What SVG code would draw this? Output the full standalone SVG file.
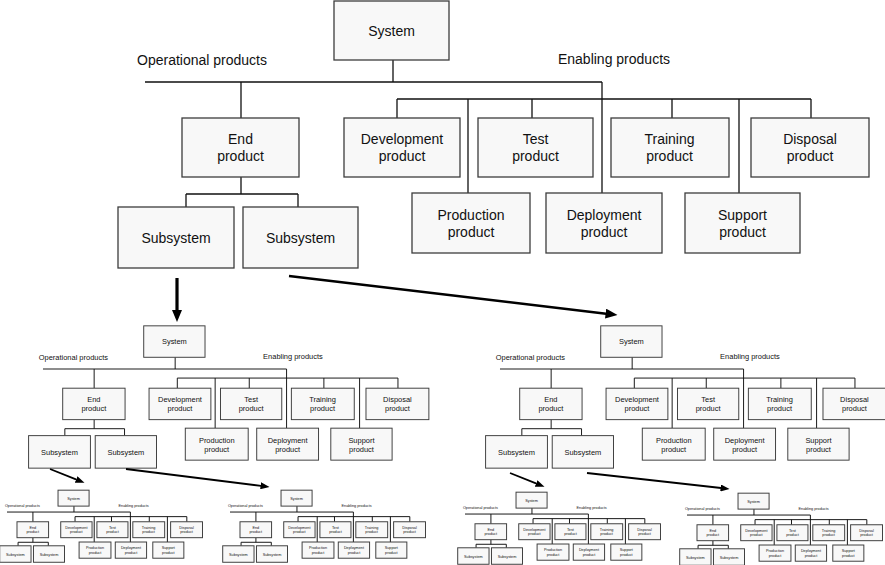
<svg xmlns="http://www.w3.org/2000/svg" xmlns:xlink="http://www.w3.org/1999/xlink" width="885" height="565" viewBox="0 0 885 565">
  <style>
    .box { fill:#f8f8f8; stroke:#3c3c3c; }
    .ln { fill:none; stroke:#111; }
    .t { font-family:"Liberation Sans", Arial, sans-serif; font-size:14px; fill:#111; text-anchor:middle; }
    .lbl { font-family:"Liberation Sans", Arial, sans-serif; font-size:14px; fill:#111; text-anchor:middle; }
    .arr { fill:none; stroke:#000; }
  </style>
  <defs>
    <marker id="hBig" markerUnits="userSpaceOnUse" viewBox="0 0 12 10" markerWidth="12" markerHeight="10" refX="0.5" refY="5" orient="auto">
      <path d="M0,0 L12,5 L0,10 Z" fill="#000"/>
    </marker>
    <marker id="hSmall" markerUnits="userSpaceOnUse" viewBox="0 0 9 7" markerWidth="9" markerHeight="7" refX="0.5" refY="3.5" orient="auto">
      <path d="M0,0 L9,3.5 L0,7 Z" fill="#000"/>
    </marker>
  </defs>
  <rect width="885" height="565" fill="#fff"/>

  <g stroke-width="1.3">
    <g id="main">
      <g id="connectors">
        <path class="ln" d="M393,60 V82 M145,82 H602 M241,82 V118 M602,82 V193 M397,99 H811 M397,99 V118 M468,99 V193 M532,99 V118 M672,99 V118 M739,99 V193 M811,99 V118 M241,177 V194 M186,194 H298 M186,194 V207 M298,194 V207"/>
      </g>
      <text class="lbl" x="202" y="65">Operational products</text>
      <text class="lbl" x="614" y="64">Enabling products</text>
      <g id="n-system"><rect class="box" x="334" y="1" width="115" height="59"/><text class="t" x="391.5" y="36">System</text></g>
      <g id="n-end"><rect class="box" x="182" y="118" width="117" height="59"/><text class="t" x="240.5" y="144">End</text><text class="t" x="240.5" y="161">product</text></g>
      <g id="n-development"><rect class="box" x="344" y="118" width="116" height="59"/><text class="t" x="402" y="144">Development</text><text class="t" x="402" y="161">product</text></g>
      <g id="n-test"><rect class="box" x="478" y="118" width="115" height="59"/><text class="t" x="535.5" y="144">Test</text><text class="t" x="535.5" y="161">product</text></g>
      <g id="n-training"><rect class="box" x="611" y="118" width="118" height="59"/><text class="t" x="669.5" y="144">Training</text><text class="t" x="669.5" y="161">product</text></g>
      <g id="n-disposal"><rect class="box" x="751" y="118" width="118" height="59"/><text class="t" x="810" y="144">Disposal</text><text class="t" x="810" y="161">product</text></g>
      <g id="n-production"><rect class="box" x="412" y="193" width="118" height="60"/><text class="t" x="471" y="220">Production</text><text class="t" x="471" y="237">product</text></g>
      <g id="n-deployment"><rect class="box" x="546" y="193" width="116" height="60"/><text class="t" x="604" y="220">Deployment</text><text class="t" x="604" y="237">product</text></g>
      <g id="n-support"><rect class="box" x="685" y="193" width="115" height="60"/><text class="t" x="742.5" y="220">Support</text><text class="t" x="742.5" y="237">product</text></g>
      <g id="n-subsystem1"><rect class="box" x="118" y="207" width="116" height="61"/><text class="t" x="176" y="243">Subsystem</text></g>
      <g id="n-subsystem2"><rect class="box" x="243" y="207" width="115" height="61"/><text class="t" x="300.5" y="243">Subsystem</text></g>
    </g>
  </g>

  <g id="copies">
    <use id="copy-L" xlink:href="#main" href="#main" stroke-width="1.8" transform="matrix(0.533 0 0 0.533 -34.3 325.3)"/>
    <use id="copy-R" xlink:href="#main" href="#main" stroke-width="1.8" transform="matrix(0.533 0 0 0.533 422.7 325.3)"/>
    <use id="copy-LL" xlink:href="#main" href="#main" stroke-width="3.6" transform="matrix(0.27 0 0 0.27 -32.15 489.9)"/>
    <use id="copy-LR" xlink:href="#main" href="#main" stroke-width="3.6" transform="matrix(0.27 0 0 0.27 190.85 489.9)"/>
    <use id="copy-RL" xlink:href="#main" href="#main" stroke-width="3.6" transform="matrix(0.27 0 0 0.27 425.85 491.9)"/>
    <use id="copy-RR" xlink:href="#main" href="#main" stroke-width="3.6" transform="matrix(0.27 0 0 0.27 647.85 492.9)"/>
  </g>

  <g id="arrows">
    <line class="arr" x1="177" y1="278" x2="177" y2="310.5" stroke-width="3.2" marker-end="url(#hBig)"/>
    <line class="arr" x1="289" y1="276" x2="606.1" y2="313.7" stroke-width="2.6" marker-end="url(#hBig)"/>
    <line class="arr" x1="50" y1="469" x2="76.6" y2="479.7" stroke-width="1.8" marker-end="url(#hSmall)"/>
    <line class="arr" x1="126" y1="469" x2="261.1" y2="485.9" stroke-width="1.8" marker-end="url(#hSmall)"/>
    <line class="arr" x1="510" y1="473" x2="536.6" y2="483.7" stroke-width="1.8" marker-end="url(#hSmall)"/>
    <line class="arr" x1="587" y1="473" x2="721.1" y2="488" stroke-width="1.8" marker-end="url(#hSmall)"/>
  </g>
</svg>
